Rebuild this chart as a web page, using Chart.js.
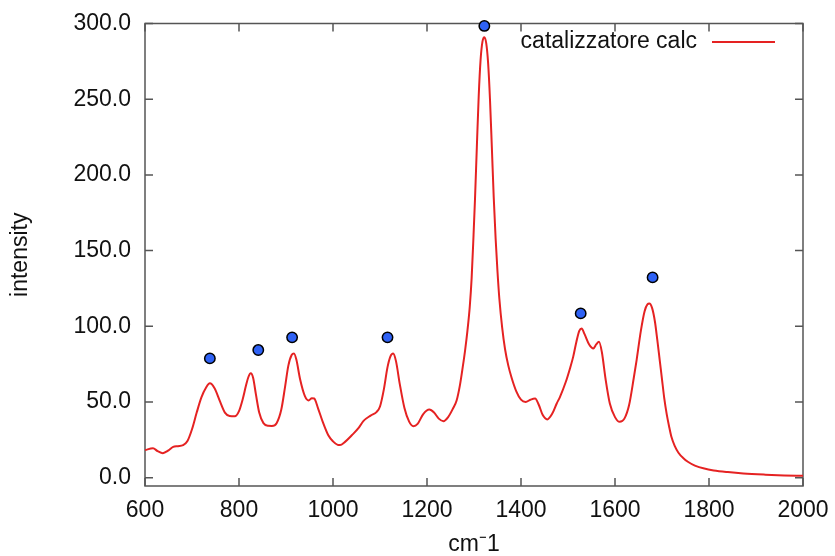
<!DOCTYPE html>
<html><head><meta charset="utf-8">
<script src="https://cdn.jsdelivr.net/npm/chart.js@4/dist/chart.umd.min.js"></script>
<style>html,body{margin:0;padding:0;background:#fff}#wrap{width:835px;height:556px}</style>
</head><body><div id="wrap"><canvas id="c" width="835" height="556"></canvas></div>
<script>
const wavenumbers = [600,617,627,638,650,660,670,681,690,700,710,720,730,738,748,760,770,780,791,800,808,815,820,825,830,836,843,852,862,870,880,890,898,905,912,917,922,930,940,948,955,960,968,978,990,1000,1010,1015,1025,1040,1055,1065,1080,1093,1100,1108,1116,1122,1128,1134,1142,1152,1162,1171,1180,1192,1205,1215,1225,1235,1245,1255,1263,1270,1276,1281,1286,1291,1295,1299,1302,1306,1310,1314,1318,1322,1326,1330,1334,1338,1342,1346,1350,1354,1360,1366,1373,1380,1390,1400,1410,1420,1430,1438,1446,1456,1466,1476,1483,1495,1505,1511,1518,1524,1529,1535,1545,1554,1560,1566,1572,1580,1589,1600,1610,1620,1630,1640,1646,1655,1663,1669,1673,1679,1685,1690,1695,1700,1705,1710,1715,1720,1727,1735,1745,1755,1770,1790,1810,1840,1873,1920,1960,2000];
const intensity = [18.2,19.4,17.5,16.2,18,20.3,20.8,21.5,24,32,43,53,59.5,62.3,59,50,43,40.8,40.6,44,52,61,66.5,68.9,66,55,43,36,34.3,34.2,36,45,60,74,81,82,78,65,54,51,52.5,52.3,46,37,28,24,21.7,21.5,23.5,28,33,37.5,41,43.5,47,58,73,80,82,77,62,46,37,34,35.5,42,45,43,39,37.3,40,45.5,51,61,73,84,97,113,132,160,183,218,252,276,288,291,287,274,250,218,185,158,136,118,99,85,74,66,57,51.5,50,51.5,52.3,48,41.5,38.5,42,49,53.4,63,73,79.8,90,97,98.6,95,88,85.4,88,89.8,83,65,49,40,36.9,39,48,66,77.7,97,110,114.5,115,112,103,91,78,65,52,42,34,27,21,16.5,13,10.5,8,6,4.8,3.7,2.8,2,1.5,1.2];
const peakPositions = [738,841,913,1116,1322,1527,1680];
const peakMarkers = [78.8,84.3,92.7,92.7,298.4,108.5,132.3];
const xTickValues = [600,800,1000,1200,1400,1600,1800,2000];
const yTickValues = [0,50,100,150,200,250,300];
const seriesLabel = 'catalizzatore calc';
const xTitle = 'cm\u207B1';
const yTitle = 'intensity';

const FONT = "'Liberation Sans', Arial, Helvetica, sans-serif";
const FS = 23;
const TEXT = '#111';
const RED = '#e52222';

const framePlugin = {
  id: 'frame',
  beforeDatasetsDraw(chart) {
    const {ctx, chartArea: a, scales} = chart;
    ctx.save();
    ctx.strokeStyle = '#555';
    ctx.lineWidth = 1.5;
    ctx.strokeRect(a.left, a.top, a.right - a.left, a.bottom - a.top);
    const L = 8;
    ctx.beginPath();
    scales.x.ticks.forEach(t => {
      const px = scales.x.getPixelForValue(t.value);
      ctx.moveTo(px, a.bottom); ctx.lineTo(px, a.bottom - L);
      ctx.moveTo(px, a.top); ctx.lineTo(px, a.top + L);
    });
    scales.y.ticks.forEach(t => {
      const py = scales.y.getPixelForValue(t.value);
      ctx.moveTo(a.left, py); ctx.lineTo(a.left + L, py);
      ctx.moveTo(a.right, py); ctx.lineTo(a.right - L, py);
    });
    ctx.stroke();
    ctx.restore();
  }
};

const keyPlugin = {
  id: 'key',
  afterDatasetsDraw(chart) {
    const {ctx, chartArea: a} = chart;
    const ds = chart.data.datasets[0];
    ctx.save();
    const y = a.top + 18.5;
    const lineEnd = a.right - 28;
    const lineStart = lineEnd - 63;
    ctx.font = FS + 'px ' + FONT;
    ctx.fillStyle = TEXT;
    ctx.textAlign = 'right';
    ctx.textBaseline = 'middle';
    ctx.fillText(ds.label, lineStart - 15, y);
    ctx.strokeStyle = ds.borderColor;
    ctx.lineWidth = 2;
    ctx.beginPath(); ctx.moveTo(lineStart, y); ctx.lineTo(lineEnd, y); ctx.stroke();
    ctx.restore();
  }
};

new Chart(document.getElementById('c'), {
  type: 'line',
  data: {
    datasets: [
      {
        label: seriesLabel,
        data: wavenumbers.map((x, i) => ({x, y: intensity[i]})),
        borderColor: RED,
        borderWidth: 2,
        pointRadius: 0,
        fill: false,
        cubicInterpolationMode: 'monotone',
        order: 2
      },
      {
        label: 'peaks',
        type: 'scatter',
        data: peakPositions.map((x, i) => ({x, y: peakMarkers[i]})),
        backgroundColor: '#2f62f5',
        borderColor: '#000',
        borderWidth: 1.5,
        pointRadius: 5.2,
        clip: false,
        order: 1
      }
    ]
  },
  options: {
    responsive: false,
    animation: false,
    devicePixelRatio: 1,
    layout: {padding: {left: 0, right: 32, top: 23.5, bottom: 0}},
    plugins: {legend: {display: false}, tooltip: {enabled: false}},
    scales: {
      x: {
        type: 'linear', min: 600, max: 2000,
        afterBuildTicks: s => { s.ticks = xTickValues.map(v => ({value: v})); },
        afterFit: s => { s.height = 70; s.paddingLeft = 0; s.paddingRight = 0; },
        grid: {display: false, drawTicks: false},
        border: {display: false},
        ticks: {color: TEXT, font: {family: FONT, size: FS}, padding: 11, maxRotation: 0, callback: v => String(v)},
        title: {display: true, text: xTitle, color: TEXT, font: {family: FONT, size: FS, lineHeight: 1}, padding: {top: 0, bottom: 0}}
      },
      y: {
        type: 'linear', min: -5.5, max: 300,
        afterBuildTicks: s => { s.ticks = yTickValues.map(v => ({value: v})); },
        afterFit: s => { s.width = 145; s.paddingTop = 0; s.paddingBottom = 0; },
        grid: {display: false, drawTicks: false},
        border: {display: false},
        ticks: {color: TEXT, font: {family: FONT, size: FS}, padding: 14, callback: v => Number(v).toFixed(1)},
        title: {display: true, text: yTitle, color: TEXT, font: {family: FONT, size: FS, lineHeight: 1}, padding: {top: 9, bottom: 0}}
      }
    }
  },
  plugins: [framePlugin, keyPlugin]
});
</script>
</body></html>
